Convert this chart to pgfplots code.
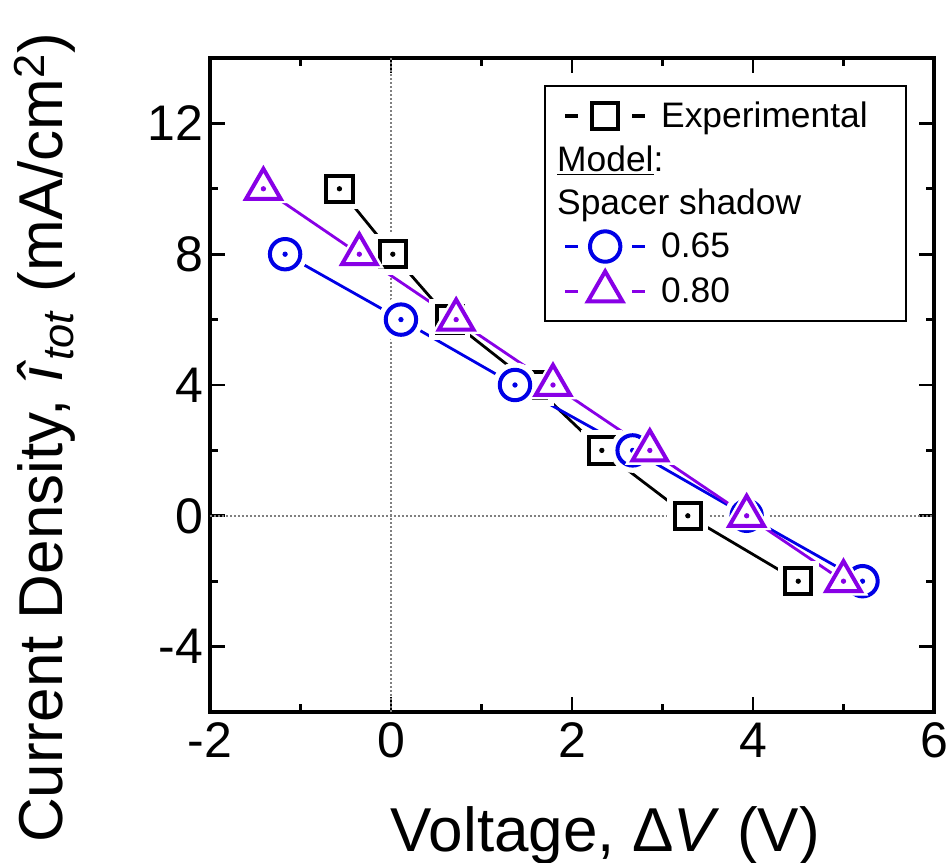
\documentclass[border=0pt]{standalone}
\usepackage{pgfplots}
\pgfplotsset{compat=1.18}
\usepackage{fontspec}
\setmainfont{Liberation Sans}
\definecolor{myblue}{RGB}{0,0,230}
\definecolor{mypurple}{RGB}{136,0,230}
\pgfplotstableread{
x y
-0.57 10
0.02 8
0.65 6
1.57 4
2.33 2
3.28 0
4.50 -2
}\exper
\pgfplotstableread{
x y
-1.17 8
0.11 6
1.37 4
2.67 2
3.93 0
5.21 -2
}\blueset
\pgfplotstableread{
x y
-1.41 10
-0.35 8
0.72 6
1.79 4
2.86 2
3.93 0
5.00 -2
}\purpset
\begin{document}
\begin{tikzpicture}
\begin{axis}[
  at={(0,0)}, anchor=south west,
  scale only axis,
  width=362pt, height=327pt,
  xmin=-2, xmax=6, ymin=-6, ymax=14,
  xtick={-2,0,2,4,6}, ytick={-4,0,4,8,12},
  minor x tick num=1, minor y tick num=1,
  tick align=inside,
  major tick length=7.5pt, minor tick length=4pt,
  every tick/.style={line width=1.4pt, black},
  axis line style={line width=1.8pt},
  /pgf/number format/assume math mode=true,
  ticklabel style={font=\fontsize{25}{29}\selectfont},
  xticklabel style={yshift=-2pt},
  xlabel={Voltage, Δ\textit{V} (V)},
  ylabel={Current Density, \textit{î}\textsubscript{\textit{tot}} (mA/cm\textsuperscript{2})},
  label style={font=\fontsize{31}{36}\selectfont},
  xlabel style={at={(axis description cs:0.546,-0.214)}, anchor=base},
  ylabel style={at={(axis description cs:-0.228,-0.211)}, anchor=west},
  legend style={at={(0.462,0.959)}, anchor=north west, draw=black, line width=0.9pt,
    font=\fontsize{17.7}{21}\selectfont, row sep=3.5pt, inner xsep=9pt, inner ysep=6pt,
    legend cell align=left},
  legend image code/.code={
    \path[draw=none, fill=none] (0pt,0pt) -- (46pt,0pt);
    \draw[#1, mark=none, line width=1.8pt] (0pt,0pt) -- (6.5pt,0pt);
    \draw[#1, mark=none, line width=1.8pt] (33.5pt,0pt) -- (40pt,0pt);
    \draw[#1, mark repeat=3, mark phase=2] plot coordinates {(20pt,0pt) (20pt,0pt) (20pt,0pt)};
  },
]
\addplot[gray, densely dotted, line width=1pt, forget plot] coordinates {(0,-6) (0,14)};
\addplot[gray, densely dotted, line width=1pt, forget plot] coordinates {(-2,0) (6,0)};

% Experimental
\addplot[black, line width=1.4pt, forget plot] table {\exper};
\addplot[white, only marks, mark=square*, mark size=10pt, forget plot] table {\exper};
\addplot[black, line width=1.4pt, only marks, mark=square*, mark size=6.6pt,
  mark options={line width=2pt, fill=white, solid}] table {\exper};
\addlegendentry{Experimental\hspace*{8pt}}
\addlegendimage{empty legend}
\addlegendentry{\hspace*{-52pt}\underline{Model}:}
\addlegendimage{empty legend}
\addlegendentry{\hspace*{-52pt}Spacer shadow}
\addplot[black, only marks, mark=*, mark size=1.1pt, forget plot] table {\exper};

% 0.65
\addplot[myblue, line width=1.4pt, forget plot] table {\blueset};
\addplot[white, only marks, mark=*, mark size=11pt, forget plot] table {\blueset};
\addplot[myblue, line width=1.4pt, only marks, mark=*, mark size=7.6pt,
  mark options={line width=2pt, fill=white, solid}] table {\blueset};
\addlegendentry{0.65}
\addplot[myblue, only marks, mark=*, mark size=1.1pt, forget plot] table {\blueset};

% 0.80
\addplot[mypurple, line width=1.4pt, forget plot] table {\purpset};
\addplot[white, only marks, mark=triangle*, mark size=14pt, forget plot] table {\purpset};
\addplot[mypurple, line width=1.4pt, only marks, mark=triangle*, mark size=10pt,
  mark options={line width=2pt, fill=white, solid}] table {\purpset};
\addlegendentry{0.80}
\addplot[mypurple, only marks, mark=*, mark size=1.1pt, forget plot] table {\purpset};
\end{axis}
\pgfresetboundingbox
\path (-105pt,-75.5pt) rectangle (370pt,356pt);
\end{tikzpicture}
\end{document}
